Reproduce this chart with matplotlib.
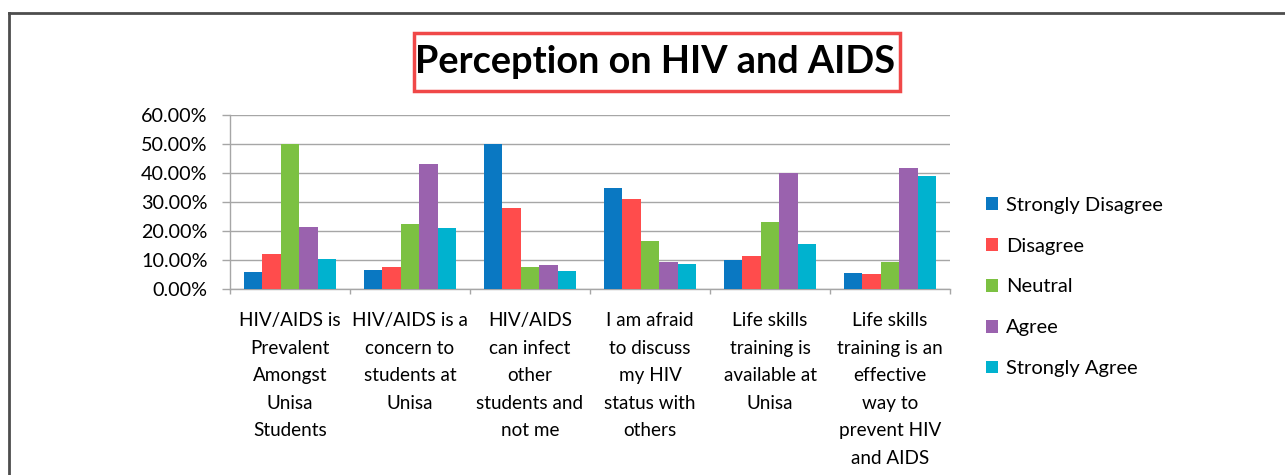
import matplotlib
matplotlib.use("Agg")
import matplotlib.pyplot as plt
import numpy as np
from matplotlib.lines import Line2D
from matplotlib.patches import Rectangle
from matplotlib.ticker import FuncFormatter, FixedLocator

plt.rcParams['font.family'] = ['Lato', 'DejaVu Sans']

categories = [
    "HIV/AIDS is\nPrevalent\nAmongst\nUnisa\nStudents",
    "HIV/AIDS is a\nconcern to\nstudents at\nUnisa",
    "HIV/AIDS\ncan infect\nother\nstudents and\nnot me",
    "I am afraid\nto discuss\nmy HIV\nstatus with\nothers",
    "Life skills\ntraining is\navailable at\nUnisa",
    "Life skills\ntraining is an\neffective\nway to\nprevent HIV\nand AIDS",
]
series_names = ["Strongly Disagree", "Disagree", "Neutral", "Agree", "Strongly Agree"]
strongly_disagree = [5.7, 6.5, 50.0, 34.7, 10.1, 5.5]
disagree = [12.1, 7.7, 27.9, 30.9, 11.5, 5.0]
neutral = [49.9, 22.3, 7.6, 16.4, 23.0, 9.2]
agree = [21.5, 43.0, 8.1, 9.4, 40.1, 41.5]
strongly_agree = [10.2, 21.0, 6.2, 8.5, 15.6, 38.9]
series_values = [strongly_disagree, disagree, neutral, agree, strongly_agree]
colors = ["#0a78c2", "#ff4c4c", "#7cc142", "#9a62ae", "#00b2cf"]
title = "Perception on HIV and AIDS"

W, H = 1285, 475
fig = plt.figure(figsize=(W / 100, H / 100), dpi=100)
fig.patch.set_facecolor("white")

ax = fig.add_axes([230 / W, 1 - 289 / H, 720 / W, (289 - 114.7) / H])

n = len(series_names)
bw = 0.154
x = np.arange(len(categories))
for i, (name, vals, c) in enumerate(zip(series_names, series_values, colors)):
    offs = (i - (n - 1) / 2) * bw
    ax.bar(x + offs, vals, width=bw, color=c, label=name, zorder=3)

ax.set_xlim(-0.5, len(categories) - 0.5)
ax.set_ylim(0, 60)
ax.set_yticks(np.arange(0, 61, 10))
ax.yaxis.set_major_formatter(FuncFormatter(lambda v, p: f"{v:.2f}%"))
ax.grid(axis="y", color="#a6a6a6", linewidth=1.0, zorder=0)
ax.set_axisbelow(True)

ax.set_xticks(x)
ax.set_xticklabels(categories, fontsize=13.6, linespacing=1.76)
ax.xaxis.set_minor_locator(FixedLocator(np.arange(-0.5, len(categories), 1.0)))
ax.tick_params(axis="x", which="major", length=0, pad=16.5)
ax.tick_params(axis="x", which="minor", length=3.8, color="#a6a6a6", width=1)
ax.tick_params(axis="y", length=5.8, color="#a6a6a6", width=1, labelsize=14.2, pad=10.4)

for s in ["top", "right"]:
    ax.spines[s].set_visible(False)
for s in ["left", "bottom"]:
    ax.spines[s].set_color("#a6a6a6")
    ax.spines[s].set_linewidth(1.0)

fig.legend(loc="center left", bbox_to_anchor=(986 / W, 1 - 287 / H), frameon=False,
           fontsize=14.5, handlelength=0.6, handleheight=0.6, handletextpad=0.4,
           labelspacing=1.18, borderaxespad=0, borderpad=0)

fig.add_artist(Rectangle((414 / W, 1 - 91 / H), 486 / W, 58 / H, transform=fig.transFigure,
                         facecolor="white", edgecolor="#f04848", linewidth=2.5))
fig.text(655 / W, 1 - 62 / H, title, fontsize=27.3, fontweight="bold",
         ha="center", va="center")

fig.add_artist(Line2D([9 / W, 1.0], [1 - 13 / H, 1 - 13 / H], transform=fig.transFigure, color="#4d4d4d", linewidth=2))
fig.add_artist(Line2D([9 / W, 9 / W], [1 - 13 / H, 0], transform=fig.transFigure, color="#4d4d4d", linewidth=2))

fig.savefig("out.png", dpi=100, facecolor="white")
